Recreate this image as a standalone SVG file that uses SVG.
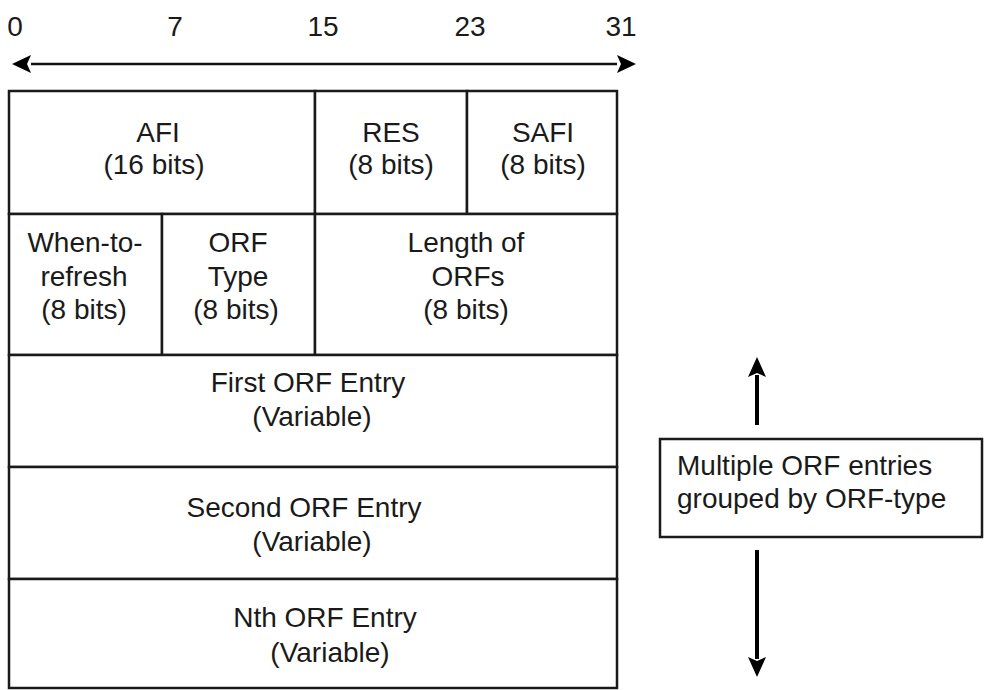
<svg xmlns="http://www.w3.org/2000/svg" width="984" height="690" viewBox="0 0 984 690">
<style>
text{font-family:"Liberation Sans",Arial,sans-serif;font-size:28px;fill:#1a1a1a;text-anchor:middle}
.box{fill:#fff;stroke:#1a1a1a;stroke-width:2.5}
.ln{stroke:#111;stroke-width:2.5;fill:none}
.arr{stroke:#000;stroke-width:4;fill:none}
</style>
<defs>
<marker id="ah" viewBox="0 0 19 18" refX="0" refY="9" markerWidth="19" markerHeight="18" markerUnits="userSpaceOnUse" orient="auto-start-reverse"><path d="M0,0 L19,9 L0,18 L4,9 Z" fill="#000"/></marker>
<marker id="ahv" viewBox="0 0 20 18" refX="2" refY="9" markerWidth="20" markerHeight="18" markerUnits="userSpaceOnUse" orient="auto"><path d="M0,0 L20,9 L0,18 L4,9 Z" fill="#000"/></marker>
</defs>
<rect width="984" height="690" fill="#fff"/>
<g id="scale">
<text x="15" y="36">0</text>
<text x="175" y="36">7</text>
<text x="323" y="36">15</text>
<text x="470" y="36">23</text>
<text x="621" y="36">31</text>
</g>
<g id="afi"><rect class="box" x="9" y="91" width="306" height="123"/><text x="158" y="142">AFI</text><text x="154" y="174">(16 bits)</text></g>
<g id="res"><rect class="box" x="315" y="91" width="152" height="123"/><text x="391" y="142">RES</text><text x="391" y="174">(8 bits)</text></g>
<g id="safi"><rect class="box" x="467" y="91" width="150" height="123"/><text x="543" y="142">SAFI</text><text x="543" y="174">(8 bits)</text></g>
<g id="when"><rect class="box" x="9" y="214" width="153" height="141"/><text x="85" y="252">When-to-</text><text x="84" y="286">refresh</text><text x="84" y="319">(8 bits)</text></g>
<g id="orftype"><rect class="box" x="162" y="214" width="153" height="141"/><text x="238" y="252">ORF</text><text x="238" y="286">Type</text><text x="236" y="319">(8 bits)</text></g>
<g id="length"><rect class="box" x="315" y="214" width="302" height="141"/><text x="466" y="252">Length of</text><text x="468" y="286">ORFs</text><text x="466" y="319">(8 bits)</text></g>
<g id="first"><rect class="box" x="9" y="355" width="608" height="112"/><text x="308" y="392">First ORF Entry</text><text x="312" y="426">(Variable)</text></g>
<g id="second"><rect class="box" x="9" y="467" width="608" height="112"/><text x="304" y="517">Second ORF Entry</text><text x="312" y="551">(Variable)</text></g>
<g id="nth"><rect class="box" x="9" y="579" width="608" height="109"/><text x="325" y="627">Nth ORF Entry</text><text x="330" y="662">(Variable)</text></g>
<g id="note"><rect class="box" x="660" y="439" width="322" height="98"/><text x="677" y="475" style="text-anchor:start">Multiple ORF entries</text><text x="677" y="508" style="text-anchor:start">grouped by ORF-type</text></g>
<g id="connectors">
<line class="ln" x1="31" y1="64" x2="617" y2="64" marker-start="url(#ah)" marker-end="url(#ah)"/>
<line class="arr" x1="757" y1="425" x2="757" y2="375" marker-end="url(#ahv)"/>
<line class="arr" x1="757" y1="550" x2="757" y2="659" marker-end="url(#ahv)"/>
</g>
</svg>
